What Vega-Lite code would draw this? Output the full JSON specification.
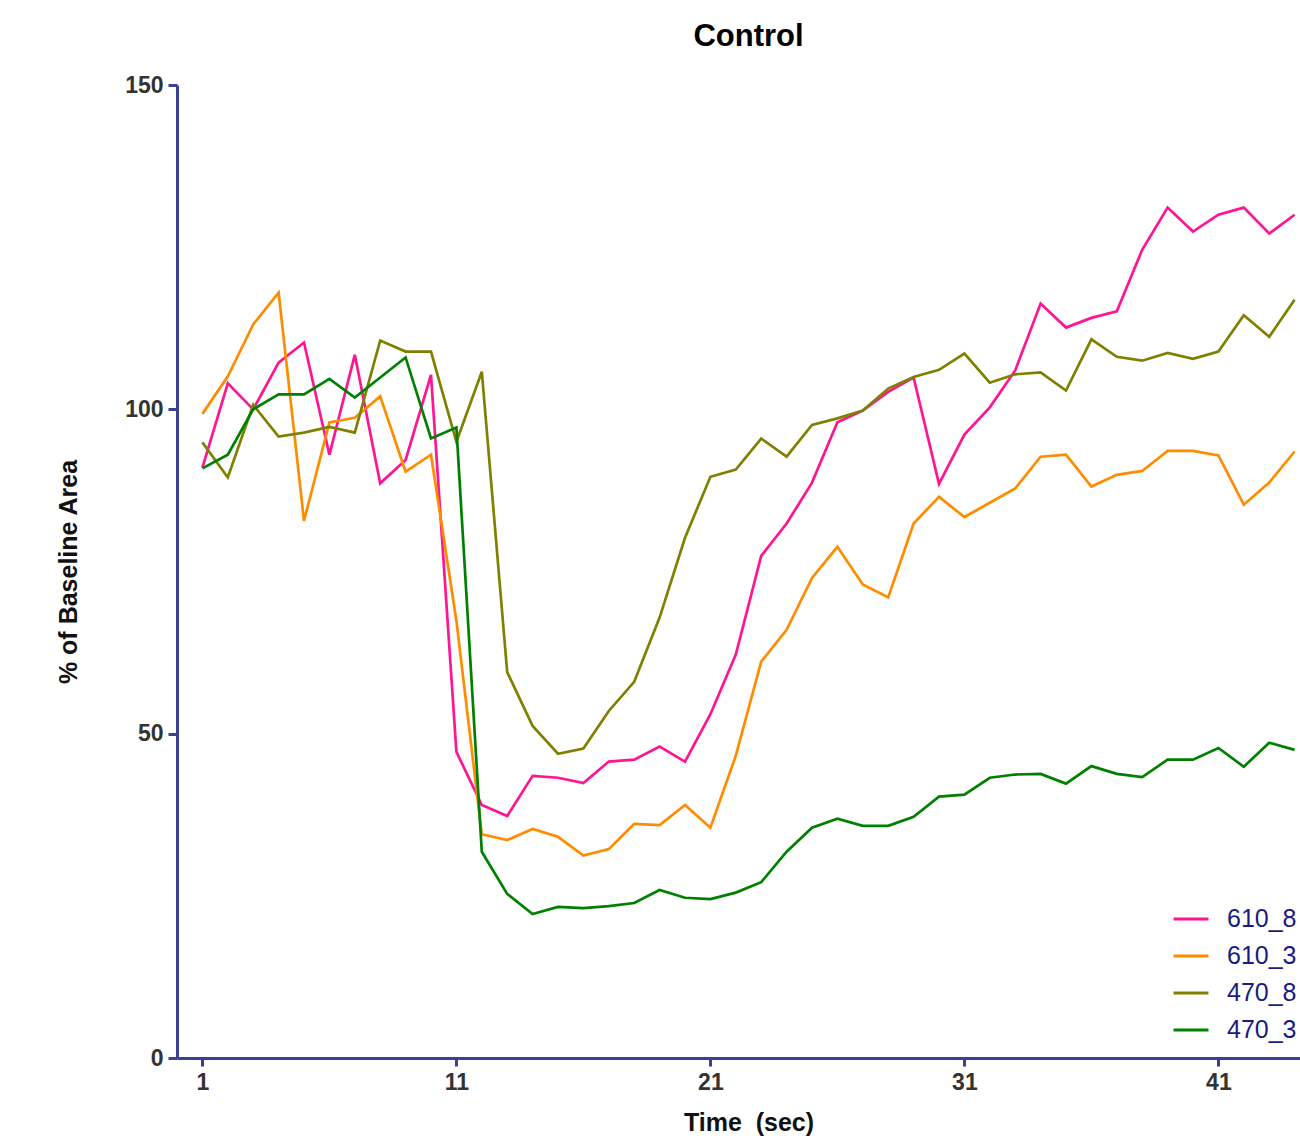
{
  "$schema": "https://vega.github.io/schema/vega-lite/v6.json",
  "autosize": "none",
  "padding": {"left": 177, "top": 85, "right": 0, "bottom": 81},
  "width": 1143,
  "height": 973,
  "background": "white",
  "title": {"text": "Control", "font": "Liberation Sans", "fontSize": 31, "fontWeight": "bold", "color": "#000000", "anchor": "middle", "offset": 21},
  "config": {"view": {"stroke": null}},
  "data": {"values": [
    {"t":1,"s":"610_8","v":91.0},{"t":2,"s":"610_8","v":104},{"t":3,"s":"610_8","v":100},{"t":4,"s":"610_8","v":107.2},{"t":5,"s":"610_8","v":110.3},{"t":6,"s":"610_8","v":93},{"t":7,"s":"610_8","v":108.4},{"t":8,"s":"610_8","v":88.6},{"t":9,"s":"610_8","v":92.2},{"t":10,"s":"610_8","v":105.3},{"t":11,"s":"610_8","v":47.2},{"t":12,"s":"610_8","v":39},{"t":13,"s":"610_8","v":37.3},{"t":14,"s":"610_8","v":43.5},{"t":15,"s":"610_8","v":43.2},{"t":16,"s":"610_8","v":42.4},{"t":17,"s":"610_8","v":45.7},{"t":18,"s":"610_8","v":46},{"t":19,"s":"610_8","v":48},{"t":20,"s":"610_8","v":45.7},{"t":21,"s":"610_8","v":53},{"t":22,"s":"610_8","v":62.2},{"t":23,"s":"610_8","v":77.4},{"t":24,"s":"610_8","v":82.4},{"t":25,"s":"610_8","v":88.7},{"t":26,"s":"610_8","v":98},{"t":27,"s":"610_8","v":99.8},{"t":28,"s":"610_8","v":102.7},{"t":29,"s":"610_8","v":104.9},{"t":30,"s":"610_8","v":88.5},{"t":31,"s":"610_8","v":96.1},{"t":32,"s":"610_8","v":100.3},{"t":33,"s":"610_8","v":106},{"t":34,"s":"610_8","v":116.3},{"t":35,"s":"610_8","v":112.6},{"t":36,"s":"610_8","v":114.1},{"t":37,"s":"610_8","v":115.1},{"t":38,"s":"610_8","v":124.6},{"t":39,"s":"610_8","v":131.1},{"t":40,"s":"610_8","v":127.4},{"t":41,"s":"610_8","v":130},{"t":42,"s":"610_8","v":131.1},{"t":43,"s":"610_8","v":127.1},{"t":44,"s":"610_8","v":130},
    {"t":1,"s":"610_3","v":99.3},{"t":2,"s":"610_3","v":105.1},{"t":3,"s":"610_3","v":113.1},{"t":4,"s":"610_3","v":118},{"t":5,"s":"610_3","v":82.8},{"t":6,"s":"610_3","v":98},{"t":7,"s":"610_3","v":98.7},{"t":8,"s":"610_3","v":102},{"t":9,"s":"610_3","v":90.4},{"t":10,"s":"610_3","v":93},{"t":11,"s":"610_3","v":67.4},{"t":12,"s":"610_3","v":34.5},{"t":13,"s":"610_3","v":33.6},{"t":14,"s":"610_3","v":35.3},{"t":15,"s":"610_3","v":34.1},{"t":16,"s":"610_3","v":31.2},{"t":17,"s":"610_3","v":32.2},{"t":18,"s":"610_3","v":36.1},{"t":19,"s":"610_3","v":35.9},{"t":20,"s":"610_3","v":39},{"t":21,"s":"610_3","v":35.5},{"t":22,"s":"610_3","v":46.6},{"t":23,"s":"610_3","v":61.1},{"t":24,"s":"610_3","v":66},{"t":25,"s":"610_3","v":74},{"t":26,"s":"610_3","v":78.8},{"t":27,"s":"610_3","v":73},{"t":28,"s":"610_3","v":71},{"t":29,"s":"610_3","v":82.4},{"t":30,"s":"610_3","v":86.5},{"t":31,"s":"610_3","v":83.4},{"t":32,"s":"610_3","v":85.6},{"t":33,"s":"610_3","v":87.8},{"t":34,"s":"610_3","v":92.7},{"t":35,"s":"610_3","v":93},{"t":36,"s":"610_3","v":88.1},{"t":37,"s":"610_3","v":89.9},{"t":38,"s":"610_3","v":90.5},{"t":39,"s":"610_3","v":93.6},{"t":40,"s":"610_3","v":93.6},{"t":41,"s":"610_3","v":92.9},{"t":42,"s":"610_3","v":85.3},{"t":43,"s":"610_3","v":88.7},{"t":44,"s":"610_3","v":93.5},
    {"t":1,"s":"470_8","v":94.9},{"t":2,"s":"470_8","v":89.5},{"t":3,"s":"470_8","v":100.7},{"t":4,"s":"470_8","v":95.8},{"t":5,"s":"470_8","v":96.4},{"t":6,"s":"470_8","v":97.3},{"t":7,"s":"470_8","v":96.4},{"t":8,"s":"470_8","v":110.6},{"t":9,"s":"470_8","v":108.9},{"t":10,"s":"470_8","v":108.9},{"t":11,"s":"470_8","v":95},{"t":12,"s":"470_8","v":105.8},{"t":13,"s":"470_8","v":59.5},{"t":14,"s":"470_8","v":51.2},{"t":15,"s":"470_8","v":46.9},{"t":16,"s":"470_8","v":47.7},{"t":17,"s":"470_8","v":53.5},{"t":18,"s":"470_8","v":58},{"t":19,"s":"470_8","v":67.9},{"t":20,"s":"470_8","v":80.2},{"t":21,"s":"470_8","v":89.6},{"t":22,"s":"470_8","v":90.7},{"t":23,"s":"470_8","v":95.5},{"t":24,"s":"470_8","v":92.7},{"t":25,"s":"470_8","v":97.6},{"t":26,"s":"470_8","v":98.6},{"t":27,"s":"470_8","v":99.8},{"t":28,"s":"470_8","v":103.2},{"t":29,"s":"470_8","v":105},{"t":30,"s":"470_8","v":106.1},{"t":31,"s":"470_8","v":108.6},{"t":32,"s":"470_8","v":104.1},{"t":33,"s":"470_8","v":105.4},{"t":34,"s":"470_8","v":105.7},{"t":35,"s":"470_8","v":102.9},{"t":36,"s":"470_8","v":110.8},{"t":37,"s":"470_8","v":108.1},{"t":38,"s":"470_8","v":107.5},{"t":39,"s":"470_8","v":108.7},{"t":40,"s":"470_8","v":107.8},{"t":41,"s":"470_8","v":108.9},{"t":42,"s":"470_8","v":114.5},{"t":43,"s":"470_8","v":111.2},{"t":44,"s":"470_8","v":116.9},
    {"t":1,"s":"470_3","v":90.9},{"t":2,"s":"470_3","v":93},{"t":3,"s":"470_3","v":100},{"t":4,"s":"470_3","v":102.3},{"t":5,"s":"470_3","v":102.3},{"t":6,"s":"470_3","v":104.7},{"t":7,"s":"470_3","v":101.8},{"t":8,"s":"470_3","v":104.9},{"t":9,"s":"470_3","v":108},{"t":10,"s":"470_3","v":95.5},{"t":11,"s":"470_3","v":97.2},{"t":12,"s":"470_3","v":31.8},{"t":13,"s":"470_3","v":25.3},{"t":14,"s":"470_3","v":22.2},{"t":15,"s":"470_3","v":23.3},{"t":16,"s":"470_3","v":23.1},{"t":17,"s":"470_3","v":23.4},{"t":18,"s":"470_3","v":23.9},{"t":19,"s":"470_3","v":25.9},{"t":20,"s":"470_3","v":24.7},{"t":21,"s":"470_3","v":24.5},{"t":22,"s":"470_3","v":25.5},{"t":23,"s":"470_3","v":27.1},{"t":24,"s":"470_3","v":31.8},{"t":25,"s":"470_3","v":35.5},{"t":26,"s":"470_3","v":36.9},{"t":27,"s":"470_3","v":35.8},{"t":28,"s":"470_3","v":35.8},{"t":29,"s":"470_3","v":37.2},{"t":30,"s":"470_3","v":40.3},{"t":31,"s":"470_3","v":40.6},{"t":32,"s":"470_3","v":43.2},{"t":33,"s":"470_3","v":43.7},{"t":34,"s":"470_3","v":43.8},{"t":35,"s":"470_3","v":42.3},{"t":36,"s":"470_3","v":45},{"t":37,"s":"470_3","v":43.8},{"t":38,"s":"470_3","v":43.3},{"t":39,"s":"470_3","v":46},{"t":40,"s":"470_3","v":46},{"t":41,"s":"470_3","v":47.8},{"t":42,"s":"470_3","v":44.9},{"t":43,"s":"470_3","v":48.6},{"t":44,"s":"470_3","v":47.5}
  ]},
  "mark": {"type": "line", "strokeWidth": 2.7, "clip": true},
  "encoding": {
    "x": {
      "field": "t", "type": "quantitative",
      "scale": {"domain": [0, 45], "nice": false, "zero": false},
      "axis": {
        "title": "Time\u00a0 (sec)", "values": [1, 11, 21, 31, 41], "grid": false,
        "domainColor": "#3b4190", "domainWidth": 3, "tickColor": "#3b4190", "tickWidth": 3, "tickSize": 8,
        "labelFont": "Liberation Sans", "labelFontSize": 23, "labelFontWeight": "bold", "labelColor": "#333333", "labelPadding": 5,
        "titleFont": "Liberation Sans", "titleFontSize": 25, "titleFontWeight": "bold", "titleColor": "#111111", "titlePadding": 16
      }
    },
    "y": {
      "field": "v", "type": "quantitative",
      "scale": {"domain": [0, 150], "nice": false},
      "axis": {
        "title": "% of Baseline Area", "values": [0, 50, 100, 150], "grid": false,
        "domainColor": "#3b4190", "domainWidth": 3, "tickColor": "#3b4190", "tickWidth": 3, "tickSize": 9,
        "labelFont": "Liberation Sans", "labelFontSize": 23, "labelFontWeight": "bold", "labelColor": "#333333", "labelPadding": 5,
        "titleFont": "Liberation Sans", "titleFontSize": 25, "titleFontWeight": "bold", "titleColor": "#111111", "titlePadding": 43
      }
    },
    "color": {
      "field": "s", "type": "nominal",
      "scale": {"domain": ["610_8", "610_3", "470_8", "470_3"], "range": ["#ff1493", "#ff8c00", "#808000", "#008000"]},
      "legend": {
        "title": null, "orient": "none", "legendX": 995, "legendY": 815, "padding": 0,
        "symbolType": "stroke", "symbolSize": 1225, "symbolStrokeWidth": 3, "rowPadding": 5,
        "labelFont": "Liberation Sans", "labelFontSize": 25, "labelColor": "#1a1a80", "labelOffset": 17, "labelLimit": 400
      }
    }
  }
}
